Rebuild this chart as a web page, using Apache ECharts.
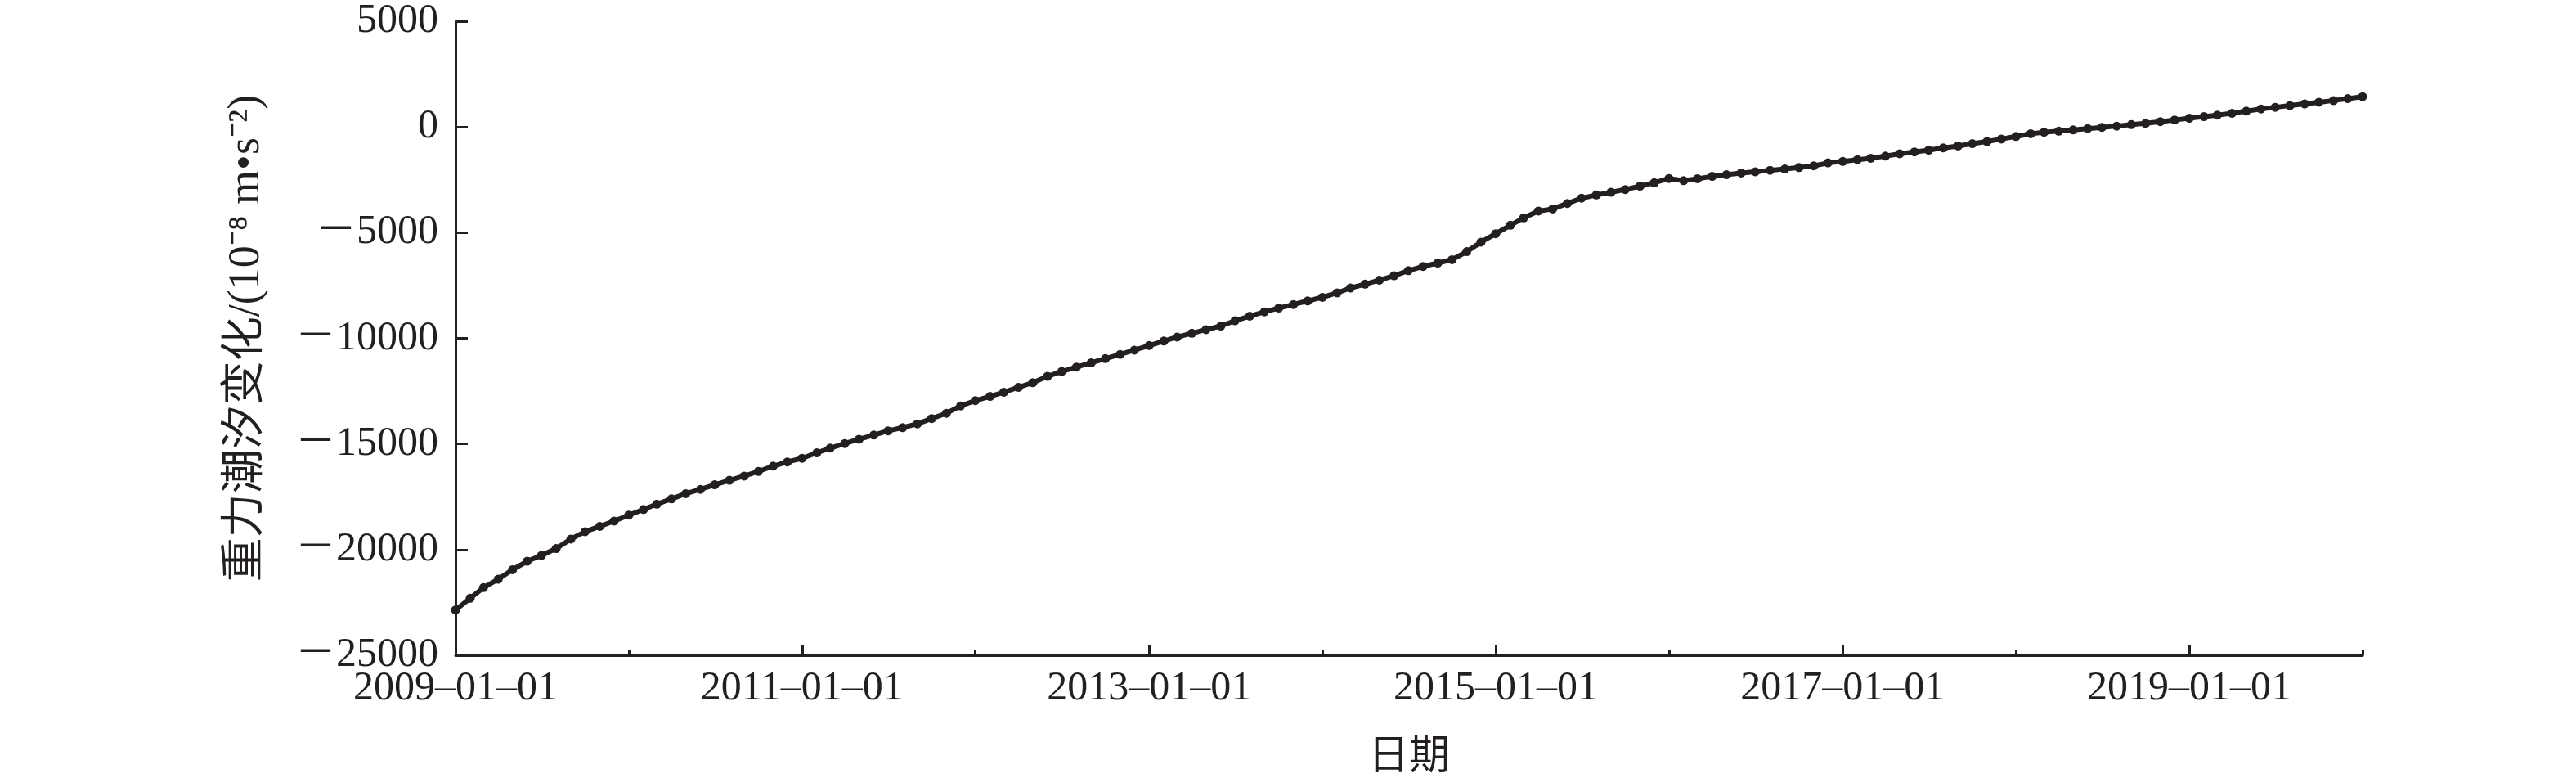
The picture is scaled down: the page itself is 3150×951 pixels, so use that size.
<!DOCTYPE html>
<html>
<head>
<meta charset="utf-8">
<script src="https://cdn.jsdelivr.net/npm/echarts@6/dist/echarts.min.js"></script>
<style>
  html, body { margin: 0; padding: 0; background: #ffffff; }
  #chart { width: 3150px; height: 951px; }
</style>
</head>
<body>
<div id="chart"></div>
<script>
// ---- data (monthly readings, first day of each month, 2009-01 .. 2020-01) ----
const startYear = 2009;
const values2009 = [-22860, -22300, -21800, -21400, -20950, -20550, -20280, -19950, -19500, -19150, -18900, -18650];
const values2010 = [-18370, -18100, -17850, -17600, -17350, -17150, -16930, -16720, -16520, -16300, -16050, -15850];
const values2011 = [-15680, -15420, -15200, -14980, -14780, -14580, -14380, -14230, -14050, -13800, -13550, -13200];
const values2012 = [-12950, -12750, -12550, -12320, -12100, -11800, -11570, -11360, -11160, -10960, -10760, -10560];
const values2013 = [-10340, -10130, -9940, -9760, -9590, -9420, -9170, -8950, -8750, -8570, -8400, -8230];
const values2014 = [-8060, -7850, -7620, -7440, -7250, -7040, -6800, -6600, -6440, -6280, -5900, -5450];
const values2015 = [-5050, -4650, -4300, -3980, -3880, -3620, -3370, -3220, -3090, -2960, -2800, -2640];
const values2016 = [-2440, -2540, -2450, -2340, -2260, -2180, -2120, -2050, -1990, -1920, -1840, -1700];
const values2017 = [-1630, -1550, -1480, -1380, -1270, -1180, -1100, -990, -900, -790, -690, -570];
const values2018 = [-450, -320, -250, -200, -140, -80, -20, 40, 110, 170, 250, 330];
const values2019 = [410, 490, 560, 650, 750, 850, 930, 1010, 1090, 1170, 1250, 1340];
const values2020 = [1430];

const yearlyValues = [values2009, values2010, values2011, values2012, values2013, values2014,
                      values2015, values2016, values2017, values2018, values2019, values2020];

const labelYears = [2009, 2011, 2013, 2015, 2017, 2019];
const minorTickYears = [2010, 2012, 2014, 2016, 2018, 2020];

const yAxisTitle = '重力潮汐变化/(10⁻⁸ m•s⁻²)';
const xAxisTitle = '日期';

// ---- build series (month dates -> value) ----
const seriesData = [];
yearlyValues.forEach(function (arr, yi) {
  arr.forEach(function (v, mi) {
    seriesData.push([Date.UTC(startYear + yi, mi, 1), v]);
  });
});
const ts = function (y) { return Date.UTC(y, 0, 1); };

const ink = '#231f20';
const serif = '"Liberation Serif", "Times New Roman", "Noto Sans CJK SC", serif';

const chart = echarts.init(document.getElementById('chart'), null, { renderer: 'canvas' });
chart.setOption({
  animation: false,
  backgroundColor: '#ffffff',
  grid: { left: 557, right: 261, top: 26, bottom: 148, containLabel: false },
  xAxis: [{
    type: 'value',
    position: 'bottom',
    min: ts(2009), max: ts(2020),
    name: xAxisTitle,
    nameLocation: 'middle',
    nameGap: 95,
    nameTextStyle: { fontFamily: '"Noto Sans CJK SC", sans-serif', fontSize: 50, color: ink },
    axisLine: { show: true, onZero: false, lineStyle: { color: ink, width: 3 } },
    axisTick: { show: true, inside: true, length: 13, lineStyle: { color: ink, width: 3 },
                customValues: labelYears.map(ts) },
    axisLabel: { show: true, margin: 16, fontFamily: serif, fontSize: 50, color: ink,
                 customValues: labelYears.map(ts),
                 formatter: function (v) { return new Date(v).getUTCFullYear() + '–01–01'; } },
    splitLine: { show: false }
  }, {
    type: 'value',
    position: 'bottom',
    min: ts(2009), max: ts(2020),
    axisLine: { show: false, onZero: false },
    axisTick: { show: true, inside: true, length: 7, lineStyle: { color: ink, width: 3 },
                customValues: minorTickYears.map(ts) },
    axisLabel: { show: false },
    splitLine: { show: false }
  }],
  yAxis: {
    type: 'value',
    min: -25000, max: 5000, interval: 5000,
    name: yAxisTitle,
    nameLocation: 'middle',
    nameRotate: 90,
    nameGap: 228,
    nameTextStyle: { fontFamily: serif, fontSize: 54, color: ink },
    axisLine: { show: true, onZero: false, lineStyle: { color: ink, width: 3 } },
    axisTick: { show: true, inside: true, length: 15, lineStyle: { color: ink, width: 3 } },
    axisLabel: { margin: 21, fontFamily: serif, fontSize: 50, color: ink,
                 formatter: function (v) { return v < 0 ? '－' + Math.abs(v) : String(v); } },
    splitLine: { show: false }
  },
  series: [{
    type: 'line',
    xAxisIndex: 0,
    data: seriesData,
    symbol: 'circle',
    symbolSize: 11,
    showSymbol: true,
    showAllSymbol: true,
    lineStyle: { color: ink, width: 6 },
    itemStyle: { color: ink },
    emphasis: { disabled: true }
  }]
});
</script>
</body>
</html>
